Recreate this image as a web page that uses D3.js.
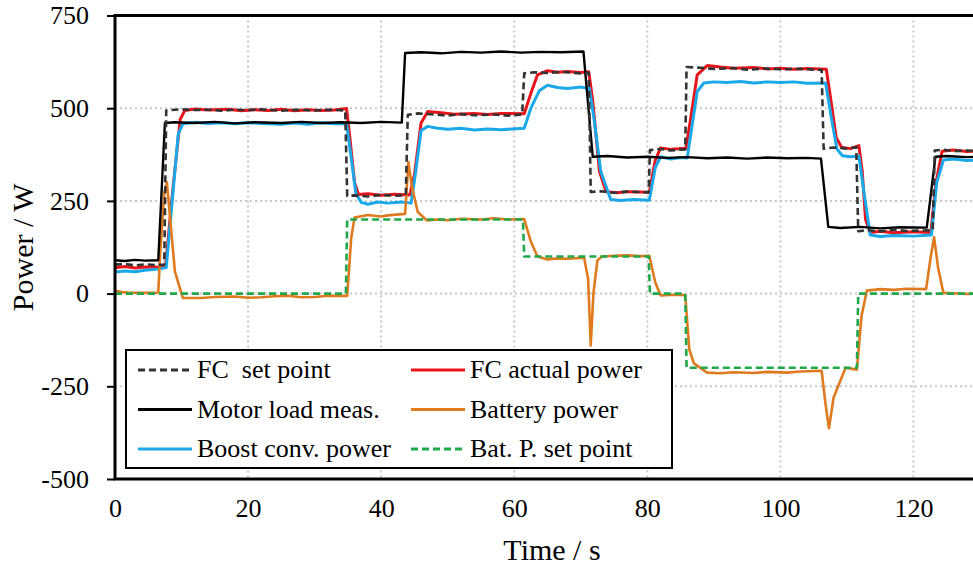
<!DOCTYPE html>
<html>
<head>
<meta charset="utf-8">
<script src="https://cdn.jsdelivr.net/npm/d3@7"></script>
<style>
  html, body { margin: 0; padding: 0; background: #fff; }
  svg { display: block; }
  text { font-family: "Liberation Serif", "Times New Roman", serif; fill: #000; }
</style>
</head>
<body>
<svg id="chart" width="973" height="571"></svg>
<script>
// Power traces over time: [time in s, power in W]
const fcSetPoint = [[0,78],[1.5,80],[3,76],[4.5,79],[6,77],[7.4,78],[7.7,494],[10,497],[12,495],[14,496],[16,493],[18,496],[20,495],[22,497],[25,493],[27,496],[30,494],[32,496],[34.6,494],[34.9,263],[36,265],[38,262],[40,266],[42,264],[43.7,265],[44.0,482],[45.5,486],[48,483],[50,480],[52,484],[54,481],[57,483],[59,480],[61.2,483],[61.5,594],[63,597],[65,595],[67,598],[70,594],[71.2,596],[71.5,274],[73,276],[75,272],[77,275],[80.2,273],[80.4,387],[82,390],[83.5,386],[85.7,389],[85.9,611],[88,609],[90,606],[93,608],[95,604],[98,607],[100,605],[103,606],[106.2,603],[106.5,391],[108,394],[110,391],[111.4,395],[111.7,168],[113,171],[115,168],[117,172],[119,169],[122.9,171],[123.2,386],[124.5,388],[126,384],[128,386],[131,384]];

const motorLoad = [[0,90],[1.5,88],[3,91],[4.5,89],[6.5,90],[7.5,460],[9,462],[12,460],[15,463],[18,459],[21,462],[25,460],[28,463],[31,460],[34,462],[37,460],[40,463],[43.1,461],[43.6,649],[46,651],[49,648],[52,652],[55,650],[58,653],[61,650],[64,652],[67,651],[70.4,653],[71.8,369],[74,371],[77,367],[80,369],[83,366],[86,368],[89,365],[92,367],[95,364],[98,367],[101,365],[104,366],[106.1,364],[107.2,180],[109,177],[112,180],[115,176],[118,179],[122.0,178],[123.3,369],[125,371],[128,368],[131,370]];

const fcActual = [[0,70],[1.5,73],[3,69],[4.5,72],[6.5,71],[7.6,75],[8.8,300],[9.8,470],[10.5,494],[12,498],[14,495],[17,497],[19,493],[21,496],[23,494],[25,497],[27,493],[29,496],[31,494],[33,495],[34.8,499],[35.3,420],[36,300],[36.6,267],[38,269],[40,265],[42,268],[44.3,266],[45,320],[46,460],[47,491],[49,488],[51,484],[54,486],[56,483],[58,486],[61.5,485],[62.5,540],[63.5,590],[65,601],[66.5,597],[68,599],[70,596],[71.2,598],[71.8,520],[72.8,330],[73.8,275],[75.5,272],[77,275],[80.3,273],[81.2,360],[82,393],[83.5,389],[85.8,392],[86.5,470],[87.5,590],[89,615],[91,611],[93,608],[96,610],[98,606],[100,608],[102,605],[104,607],[106.9,605],[107.6,520],[108.4,420],[109.2,395],[110.5,391],[111.8,399],[112.3,330],[112.8,200],[113.5,165],[115,168],[117,164],[120,167],[122.6,165],[123.4,300],[124.3,384],[126,387],[128,383],[131,385]];

const boostPower = [[0,58],[1.5,61],[3,59],[4.5,63],[6.5,66],[7.7,70],[8.8,290],[9.5,430],[10.2,458],[12,462],[14,459],[16,461],[18,458],[20,461],[22,459],[25,457],[27,460],[29,457],[31,461],[33,458],[34.8,459],[35.4,380],[36.2,270],[37,246],[38,241],[39.5,247],[41,244],[43,247],[44.5,244],[45.2,330],[46,440],[47,451],[48.5,446],[50,443],[52,446],[54,441],[56,444],[58,442],[61.5,446],[62.5,500],[63.8,548],[65,562],[66.5,556],[68,553],[70,557],[71.3,553],[72,470],[73,330],[74.5,254],[76,251],[78,254],[80.3,252],[81.2,340],[82,369],[83.5,363],[85,367],[86,366],[86.7,450],[87.5,545],[88.5,568],[90,571],[92,569],[94,572],[96,568],[98,571],[100,569],[102,571],[104,567],[106.8,568],[107.6,480],[108.5,390],[109.3,372],[110.5,369],[111.8,371],[112.5,280],[113.5,158],[115,154],[117,157],[120,155],[122.7,158],[123.5,300],[124.5,360],[126,363],[128,359],[131,361]];

const batteryPower = [[0,8],[1,4],[2,3],[4,2],[6.5,3],[6.8,110],[7.4,270],[7.8,300],[8.3,200],[9,60],[10.2,-12],[13,-12],[15,-9],[18,-8],[20,-11],[22,-10],[24,-7],[26,-6],[28,-10],[30,-9],[32,-6],[34.9,-6],[35.5,150],[36,205],[38,212],[40,208],[41,211],[43.6,215],[44.1,355],[44.6,290],[45.5,220],[46.9,197],[48.5,200],[50,198],[52,202],[55,200],[57,203],[59,200],[61.5,201],[62.5,140],[63.5,100],[65,92],[66.5,95],[68,94],[70.5,97],[71.1,40],[71.5,-140],[71.9,0],[72.5,90],[73.2,100],[75,102],[77,103],[79,101],[80.3,102],[81.2,30],[82,-5],[84,-3],[85.7,-4],[86.3,-150],[87,-188],[89,-213],[91,-215],[93,-212],[96,-214],[98,-211],[101,-213],[103,-210],[106.2,-208],[106.8,-300],[107.3,-363],[108,-280],[109.8,-200],[111.5,-205],[112.2,-60],[113,8],[115,12],[117,10],[119,13],[121.9,12],[122.6,100],[123.1,152],[123.7,70],[124.5,2],[126,1],[128,-1],[131,2]];

const batSetPoint = [[0,0],[34.7,0],[34.9,200],[61.3,200],[61.5,100],[80.2,100],[80.4,0],[85.7,0],[85.9,-200],[111.5,-200],[111.7,0],[131,0]];

const xTicks = [0, 20, 40, 60, 80, 100, 120];
const yTicks = [-500, -250, 0, 250, 500, 750];

const legendNames = ["FC  set point", "FC actual power", "Motor load meas.", "Battery power", "Boost conv. power", "Bat. P. set point"];

const serif = '"Liberation Serif", "Times New Roman", serif';
const svg = d3.select("#chart");
const plotLeft = 115, plotTop = 15.5, plotBottom = 479, plotRight = 980;

const x = d3.scaleLinear().domain([0, 130]).range([plotLeft, plotRight]);
const y = d3.scaleLinear().domain([-500, 750]).range([plotBottom, plotTop]);

// dotted grid
const grid = svg.append("g").attr("stroke", "#c8c8c8").attr("stroke-width", 2).attr("stroke-dasharray", "2,3");
grid.selectAll(".gx").data(xTicks.filter(d => d > 0)).join("line")
  .attr("x1", d => x(d)).attr("x2", d => x(d)).attr("y1", plotTop).attr("y2", plotBottom);
grid.selectAll(".gy").data(yTicks.filter(d => d > -500 && d < 750)).join("line")
  .attr("x1", plotLeft).attr("x2", plotRight).attr("y1", d => y(d)).attr("y2", d => y(d));

svg.append("clipPath").attr("id", "plotClip").append("rect")
  .attr("x", plotLeft).attr("y", plotTop).attr("width", plotRight - plotLeft).attr("height", plotBottom - plotTop);

const line = d3.line().x(d => x(d[0])).y(d => y(d[1])).curve(d3.curveLinear);

const series = [
  { data: fcActual, color: "#e8141c", width: 3, dash: null },
  { data: boostPower, color: "#1aa9e8", width: 3, dash: null },
  { data: batteryPower, color: "#e07a1f", width: 2.6, dash: null },
  { data: batSetPoint, color: "#1fa84a", width: 2.6, dash: "7,4" },
  { data: motorLoad, color: "#000000", width: 2.4, dash: null },
  { data: fcSetPoint, color: "#333333", width: 2.6, dash: "7,4" }
];

const plot = svg.append("g").attr("clip-path", "url(#plotClip)");
series.forEach(s => {
  plot.append("path").datum(s.data)
    .attr("d", line).attr("fill", "none")
    .attr("stroke", s.color).attr("stroke-width", s.width)
    .attr("stroke-linejoin", "round")
    .attr("stroke-dasharray", s.dash);
});

// frame
svg.append("path")
  .attr("d", `M${plotRight},${plotTop}H${plotLeft}V${plotBottom}H${plotRight}`)
  .attr("fill", "none").attr("stroke", "#000").attr("stroke-width", 3);

// y axis ticks and labels
const yAxis = svg.append("g").attr("transform", `translate(${plotLeft},0)`)
  .call(d3.axisLeft(y).tickValues(yTicks).tickFormat(d => String(d)).tickSize(8).tickPadding(18));
yAxis.attr("font-family", null);
yAxis.select(".domain").remove();
yAxis.selectAll(".tick line").attr("stroke", "#000").attr("stroke-width", 2);
yAxis.selectAll(".tick text").style("font-family", serif).style("font-size", "26px");

// x axis labels
const xAxis = svg.append("g").attr("transform", `translate(0,${plotBottom})`)
  .call(d3.axisBottom(x).tickValues(xTicks).tickFormat(d => String(d)).tickSize(0).tickPadding(20));
xAxis.attr("font-family", null);
xAxis.select(".domain").remove();
xAxis.selectAll(".tick text").style("font-family", serif).style("font-size", "26px");

// axis titles
svg.append("text").attr("x", 552).attr("y", 560).attr("text-anchor", "middle")
  .attr("font-size", 30).text("Time / s");
svg.append("text").attr("transform", `translate(33,${(plotTop + plotBottom) / 2}) rotate(-90)`)
  .attr("text-anchor", "middle").attr("font-size", 30).text("Power / W");

// legend
const lg = svg.append("g");
lg.append("rect").attr("x", 126).attr("y", 350).attr("width", 546).attr("height", 118)
  .attr("fill", "#fff").attr("stroke", "#000").attr("stroke-width", 2);
const legendStyle = [series[5], series[0], series[4], series[2], series[1], series[3]];
legendNames.forEach((name, i) => {
  const col = i % 2, row = Math.floor(i / 2);
  const lx = col === 0 ? 138 : 411;
  const ly = 370 + row * 39.5;
  const s = legendStyle[i];
  lg.append("line").attr("x1", lx).attr("x2", lx + 54).attr("y1", ly).attr("y2", ly)
    .attr("stroke", s.color).attr("stroke-width", 3).attr("stroke-dasharray", s.dash);
  lg.append("text").attr("x", lx + 59).attr("y", ly + 8).attr("font-size", 26)
    .style("white-space", "pre").text(name);
});
</script>
</body>
</html>
